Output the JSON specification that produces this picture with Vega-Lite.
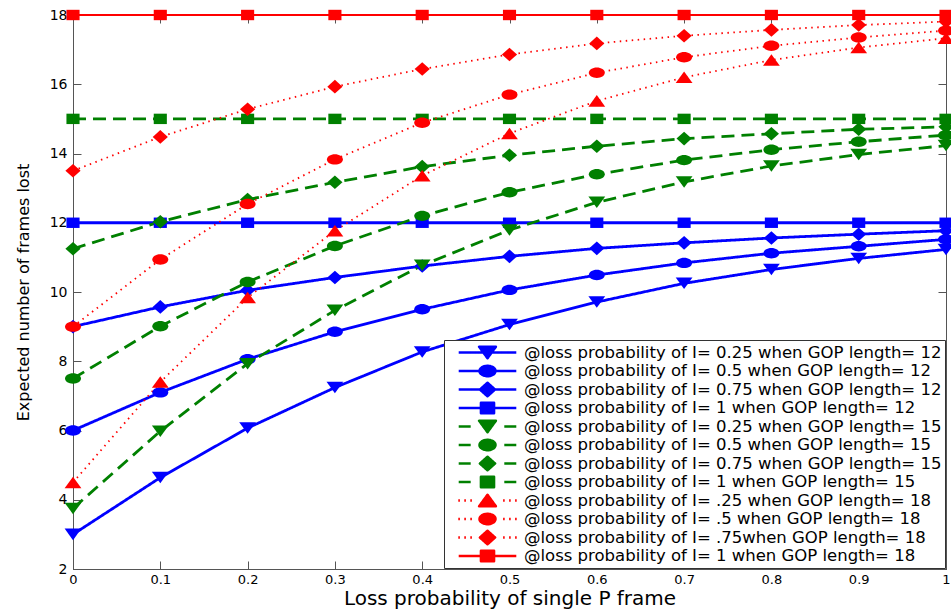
{
  "$schema": "https://vega.github.io/schema/vega-lite/v6.json",
  "width": 873,
  "height": 554,
  "autosize": {"type": "none"},
  "padding": {"left": 73, "top": 15, "right": 5, "bottom": 43},
  "background": "white",
  "config": {
    "font": "DejaVu Sans",
    "view": {"stroke": "#222", "strokeWidth": 1},
    "axis": {
      "domainColor": "#555",
      "tickColor": "#555",
      "labelColor": "#000",
      "titleColor": "#000",
      "labelFont": "DejaVu Sans",
      "titleFont": "DejaVu Sans",
      "titleFontWeight": "normal",
      "grid": false,
      "labelFlush": false,
      "tickSize": -8
    }
  },
  "datasets": {
    "series": [
      {"s": 1, "label": "@loss probability of I= 0.25 when GOP length= 12"},
      {"s": 2, "label": "@loss probability of I= 0.5 when GOP length= 12"},
      {"s": 3, "label": "@loss probability of I= 0.75 when GOP length= 12"},
      {"s": 4, "label": "@loss probability of I= 1 when GOP length= 12"},
      {"s": 5, "label": "@loss probability of I= 0.25 when GOP length= 15"},
      {"s": 6, "label": "@loss probability of I= 0.5 when GOP length= 15"},
      {"s": 7, "label": "@loss probability of I= 0.75 when GOP length= 15"},
      {"s": 8, "label": "@loss probability of I= 1 when GOP length= 15"},
      {"s": 9, "label": "@loss probability of I= .25 when GOP length= 18"},
      {"s": 10, "label": "@loss probability of I= .5 when GOP length= 18"},
      {"s": 11, "label": "@loss probability of I= .75when GOP length= 18"},
      {"s": 12, "label": "@loss probability of I= 1 when GOP length= 18"}
    ]
  },
  "data": {
    "values": [
      {"s": 1, "p": 0, "e": 3}, {"s": 1, "p": 0.1, "e": 4.64}, {"s": 1, "p": 0.2, "e": 6.07}, {"s": 1, "p": 0.3, "e": 7.24}, {"s": 1, "p": 0.4, "e": 8.27}, {"s": 1, "p": 0.5, "e": 9.06}, {"s": 1, "p": 0.6, "e": 9.71}, {"s": 1, "p": 0.7, "e": 10.25}, {"s": 1, "p": 0.8, "e": 10.65}, {"s": 1, "p": 0.9, "e": 10.97}, {"s": 1, "p": 1, "e": 11.23},
      {"s": 2, "p": 0, "e": 6}, {"s": 2, "p": 0.1, "e": 7.1}, {"s": 2, "p": 0.2, "e": 8.06}, {"s": 2, "p": 0.3, "e": 8.85}, {"s": 2, "p": 0.4, "e": 9.5}, {"s": 2, "p": 0.5, "e": 10.06}, {"s": 2, "p": 0.6, "e": 10.49}, {"s": 2, "p": 0.7, "e": 10.84}, {"s": 2, "p": 0.8, "e": 11.12}, {"s": 2, "p": 0.9, "e": 11.32}, {"s": 2, "p": 1, "e": 11.52},
      {"s": 3, "p": 0, "e": 9}, {"s": 3, "p": 0.1, "e": 9.57}, {"s": 3, "p": 0.2, "e": 10.05}, {"s": 3, "p": 0.3, "e": 10.42}, {"s": 3, "p": 0.4, "e": 10.75}, {"s": 3, "p": 0.5, "e": 11.03}, {"s": 3, "p": 0.6, "e": 11.26}, {"s": 3, "p": 0.7, "e": 11.42}, {"s": 3, "p": 0.8, "e": 11.56}, {"s": 3, "p": 0.9, "e": 11.67}, {"s": 3, "p": 1, "e": 11.77},
      {"s": 4, "p": 0, "e": 12}, {"s": 4, "p": 0.1, "e": 12}, {"s": 4, "p": 0.2, "e": 12}, {"s": 4, "p": 0.3, "e": 12}, {"s": 4, "p": 0.4, "e": 12}, {"s": 4, "p": 0.5, "e": 12}, {"s": 4, "p": 0.6, "e": 12}, {"s": 4, "p": 0.7, "e": 12}, {"s": 4, "p": 0.8, "e": 12}, {"s": 4, "p": 0.9, "e": 12}, {"s": 4, "p": 1, "e": 12},
      {"s": 5, "p": 0, "e": 3.75}, {"s": 5, "p": 0.1, "e": 5.98}, {"s": 5, "p": 0.2, "e": 7.93}, {"s": 5, "p": 0.3, "e": 9.47}, {"s": 5, "p": 0.4, "e": 10.77}, {"s": 5, "p": 0.5, "e": 11.79}, {"s": 5, "p": 0.6, "e": 12.59}, {"s": 5, "p": 0.7, "e": 13.18}, {"s": 5, "p": 0.8, "e": 13.64}, {"s": 5, "p": 0.9, "e": 13.97}, {"s": 5, "p": 1, "e": 14.23},
      {"s": 6, "p": 0, "e": 7.5}, {"s": 6, "p": 0.1, "e": 9.01}, {"s": 6, "p": 0.2, "e": 10.29}, {"s": 6, "p": 0.3, "e": 11.33}, {"s": 6, "p": 0.4, "e": 12.2}, {"s": 6, "p": 0.5, "e": 12.88}, {"s": 6, "p": 0.6, "e": 13.4}, {"s": 6, "p": 0.7, "e": 13.81}, {"s": 6, "p": 0.8, "e": 14.11}, {"s": 6, "p": 0.9, "e": 14.34}, {"s": 6, "p": 1, "e": 14.53},
      {"s": 7, "p": 0, "e": 11.25}, {"s": 7, "p": 0.1, "e": 12.03}, {"s": 7, "p": 0.2, "e": 12.67}, {"s": 7, "p": 0.3, "e": 13.17}, {"s": 7, "p": 0.4, "e": 13.62}, {"s": 7, "p": 0.5, "e": 13.95}, {"s": 7, "p": 0.6, "e": 14.21}, {"s": 7, "p": 0.7, "e": 14.43}, {"s": 7, "p": 0.8, "e": 14.57}, {"s": 7, "p": 0.9, "e": 14.7}, {"s": 7, "p": 1, "e": 14.77},
      {"s": 8, "p": 0, "e": 15}, {"s": 8, "p": 0.1, "e": 15}, {"s": 8, "p": 0.2, "e": 15}, {"s": 8, "p": 0.3, "e": 15}, {"s": 8, "p": 0.4, "e": 15}, {"s": 8, "p": 0.5, "e": 15}, {"s": 8, "p": 0.6, "e": 15}, {"s": 8, "p": 0.7, "e": 15}, {"s": 8, "p": 0.8, "e": 15}, {"s": 8, "p": 0.9, "e": 15}, {"s": 8, "p": 1, "e": 15},
      {"s": 9, "p": 0, "e": 4.5}, {"s": 9, "p": 0.1, "e": 7.4}, {"s": 9, "p": 0.2, "e": 9.84}, {"s": 9, "p": 0.3, "e": 11.77}, {"s": 9, "p": 0.4, "e": 13.36}, {"s": 9, "p": 0.5, "e": 14.58}, {"s": 9, "p": 0.6, "e": 15.52}, {"s": 9, "p": 0.7, "e": 16.2}, {"s": 9, "p": 0.8, "e": 16.7}, {"s": 9, "p": 0.9, "e": 17.06}, {"s": 9, "p": 1, "e": 17.33},
      {"s": 10, "p": 0, "e": 9}, {"s": 10, "p": 0.1, "e": 10.94}, {"s": 10, "p": 0.2, "e": 12.54}, {"s": 10, "p": 0.3, "e": 13.83}, {"s": 10, "p": 0.4, "e": 14.89}, {"s": 10, "p": 0.5, "e": 15.7}, {"s": 10, "p": 0.6, "e": 16.33}, {"s": 10, "p": 0.7, "e": 16.78}, {"s": 10, "p": 0.8, "e": 17.11}, {"s": 10, "p": 0.9, "e": 17.35}, {"s": 10, "p": 1, "e": 17.55},
      {"s": 11, "p": 0, "e": 13.5}, {"s": 11, "p": 0.1, "e": 14.48}, {"s": 11, "p": 0.2, "e": 15.28}, {"s": 11, "p": 0.3, "e": 15.93}, {"s": 11, "p": 0.4, "e": 16.44}, {"s": 11, "p": 0.5, "e": 16.86}, {"s": 11, "p": 0.6, "e": 17.18}, {"s": 11, "p": 0.7, "e": 17.4}, {"s": 11, "p": 0.8, "e": 17.57}, {"s": 11, "p": 0.9, "e": 17.71}, {"s": 11, "p": 1, "e": 17.81},
      {"s": 12, "p": 0, "e": 18}, {"s": 12, "p": 0.1, "e": 18}, {"s": 12, "p": 0.2, "e": 18}, {"s": 12, "p": 0.3, "e": 18}, {"s": 12, "p": 0.4, "e": 18}, {"s": 12, "p": 0.5, "e": 18}, {"s": 12, "p": 0.6, "e": 18}, {"s": 12, "p": 0.7, "e": 18}, {"s": 12, "p": 0.8, "e": 18}, {"s": 12, "p": 0.9, "e": 18}, {"s": 12, "p": 1, "e": 18}
    ]
  },
  "transform": [
    {"lookup": "s", "from": {"data": {"name": "series"}, "key": "s", "fields": ["label"]}}
  ],
  "layer": [
    {
      "mark": {"type": "line", "strokeCap": "butt", "strokeJoin": "round"},
      "encoding": {
        "x": {
          "field": "p", "type": "quantitative",
          "scale": {"domain": [0, 1], "nice": false},
          "axis": {
            "orient": "bottom",
            "values": [0, 0.1, 0.2, 0.3, 0.4, 0.5, 0.6, 0.7, 0.8, 0.9, 1],
            "format": "~g",
            "title": "Loss probability of single P frame",
            "titleFontSize": 20,
            "titlePadding": 2,
            "labelFontSize": 13,
            "labelPadding": 12
          }
        },
        "y": {
          "field": "e", "type": "quantitative",
          "scale": {"domain": [2, 18], "nice": false, "zero": false},
          "axis": {
            "orient": "left",
            "values": [2, 4, 6, 8, 10, 12, 14, 16, 18],
            "title": "Expected number of frames lost",
            "titleFontSize": 16,
            "titlePadding": 18,
            "labelFontSize": 14,
            "labelPadding": 14
          }
        },
        "detail": {"field": "s", "type": "nominal"},
        "color": {
          "field": "label", "type": "nominal",
          "scale": {
            "domain": [
              "@loss probability of I= 0.25 when GOP length= 12",
              "@loss probability of I= 0.5 when GOP length= 12",
              "@loss probability of I= 0.75 when GOP length= 12",
              "@loss probability of I= 1 when GOP length= 12",
              "@loss probability of I= 0.25 when GOP length= 15",
              "@loss probability of I= 0.5 when GOP length= 15",
              "@loss probability of I= 0.75 when GOP length= 15",
              "@loss probability of I= 1 when GOP length= 15",
              "@loss probability of I= .25 when GOP length= 18",
              "@loss probability of I= .5 when GOP length= 18",
              "@loss probability of I= .75when GOP length= 18",
              "@loss probability of I= 1 when GOP length= 18"
            ],
            "range": ["#0000ff", "#0000ff", "#0000ff", "#0000ff", "#008000", "#008000", "#008000", "#008000", "#ff0000", "#ff0000", "#ff0000", "#ff0000"]
          },
          "legend": {
            "title": null,
            "orient": "bottom-right",
            "offset": 1,
            "padding": 3,
            "fillColor": "white",
            "strokeColor": "#333",
            "cornerRadius": 0,
            "labelFont": "DejaVu Sans",
            "labelFontSize": 16.5,
            "labelColor": "#000",
            "labelLimit": 700,
            "symbolSize": 256,
            "symbolOffset": 31,
            "labelOffset": 27,
            "rowPadding": 0.5,
            "encode": {
              "symbols": {
                "update": {
                  "shape": {"signal": "(datum.index < 4 || datum.index == 11 ? 'M-3.6,0H3.6' : datum.index < 8 ? 'M-3.6,0H-2.1M2.1,0H3.6' : 'M-3.65,0H-3.45M-2.9,0H-2.7M-2.15,0H-1.95M1.95,0H2.15M2.7,0H2.9M3.45,0H3.65') + (datum.index == 8 ? 'M-1.05,0.72L1.05,0.72L0,-0.72Z' : ['M-1.05,-0.72L1.05,-0.72L0,0.72Z', 'M-1,0C-1,-0.359 -0.552,-0.65 0,-0.65C0.552,-0.65 1,-0.359 1,0C1,0.359 0.552,0.65 0,0.65C-0.552,0.65 -1,0.359 -1,0Z', 'M-0.95,0L0,-0.85L0.95,0L0,0.85Z', 'M-0.82,-0.65H0.82V0.65H-0.82Z'][datum.index % 4])"},
                  "fill": {"signal": "scale('color', datum.value)"},
                  "stroke": {"signal": "scale('color', datum.value)"},
                  "strokeWidth": {"value": 2.5},
                  "strokeJoin": {"value": "round"},
                  "strokeCap": {"value": "butt"},
                  "strokeDash": {"value": [1, 0]},
                  "opacity": {"value": 1},
                  "fillOpacity": {"value": 1},
                  "strokeOpacity": {"value": 1}
                }
              }
            }
          }
        },
        "strokeDash": {
          "field": "s", "type": "nominal",
          "scale": {
            "domain": [1, 2, 3, 4, 5, 6, 7, 8, 9, 10, 11, 12],
            "range": [[1, 0], [1, 0], [1, 0], [1, 0], [13, 7], [13, 7], [13, 7], [13, 7], [1.5, 4.5], [1.5, 4.5], [1.5, 4.5], [1, 0]]
          },
          "legend": null
        },
        "strokeWidth": {
          "condition": [
            {"test": "datum.s >= 9 && datum.s <= 11", "value": 1.8},
            {"test": "datum.s == 12", "value": 2.2}
          ],
          "value": 2.8
        }
      }
    },
    {
      "mark": {"type": "point", "filled": true, "opacity": 1, "size": 256, "strokeWidth": 0},
      "encoding": {
        "x": {
          "field": "p", "type": "quantitative",
          "axis": {
            "orient": "top",
            "values": [0, 0.1, 0.2, 0.3, 0.4, 0.5, 0.6, 0.7, 0.8, 0.9, 1],
            "labels": false,
            "title": null
          }
        },
        "y": {
          "field": "e", "type": "quantitative",
          "axis": {
            "orient": "right",
            "values": [2, 4, 6, 8, 10, 12, 14, 16, 18],
            "labels": false,
            "title": null
          }
        },
        "color": {"field": "label", "type": "nominal"},
        "shape": {
          "field": "s", "type": "nominal",
          "scale": {
            "domain": [1, 2, 3, 4, 5, 6, 7, 8, 9, 10, 11, 12],
            "range": [
              "M-1.05,-0.72L1.05,-0.72L0,0.72Z",
              "M-1,0C-1,-0.359 -0.552,-0.65 0,-0.65C0.552,-0.65 1,-0.359 1,0C1,0.359 0.552,0.65 0,0.65C-0.552,0.65 -1,0.359 -1,0Z",
              "M-0.95,0L0,-0.85L0.95,0L0,0.85Z",
              "M-0.82,-0.65H0.82V0.65H-0.82Z",
              "M-1.05,-0.72L1.05,-0.72L0,0.72Z",
              "M-1,0C-1,-0.359 -0.552,-0.65 0,-0.65C0.552,-0.65 1,-0.359 1,0C1,0.359 0.552,0.65 0,0.65C-0.552,0.65 -1,0.359 -1,0Z",
              "M-0.95,0L0,-0.85L0.95,0L0,0.85Z",
              "M-0.82,-0.65H0.82V0.65H-0.82Z",
              "M-1.05,0.72L1.05,0.72L0,-0.72Z",
              "M-1,0C-1,-0.359 -0.552,-0.65 0,-0.65C0.552,-0.65 1,-0.359 1,0C1,0.359 0.552,0.65 0,0.65C-0.552,0.65 -1,0.359 -1,0Z",
              "M-0.95,0L0,-0.85L0.95,0L0,0.85Z",
              "M-0.82,-0.65H0.82V0.65H-0.82Z"
            ]
          },
          "legend": null
        }
      }
    }
  ]
}
